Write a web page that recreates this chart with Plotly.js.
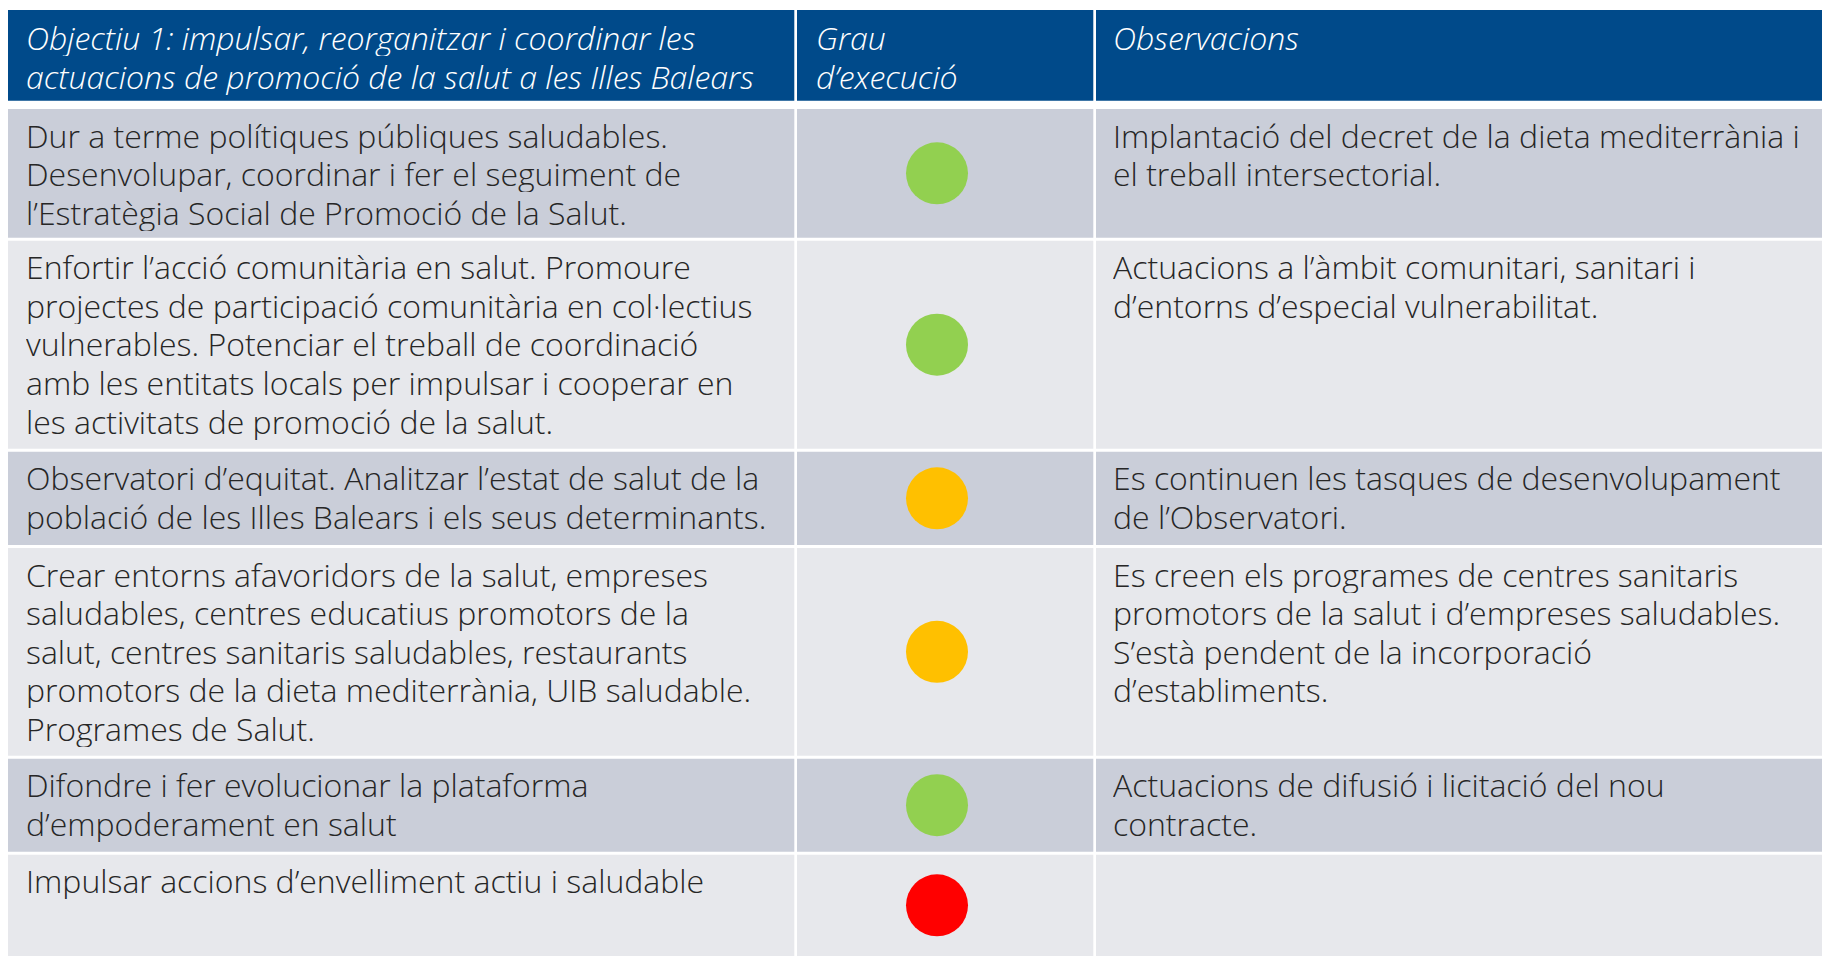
<!DOCTYPE html>
<html><head><meta charset="utf-8">
<script src="https://cdn.plot.ly/plotly-3.0.1.min.js"></script>
<style>html,body{margin:0;padding:0;background:#fff;overflow:hidden}</style>
</head><body><div id="chart" style="width:1822px;height:956px"></div>
<script>
// ---- data ----
const headers = [
  "Objectiu 1: impulsar, reorganitzar i coordinar les<br>actuacions de promoció de la salut a les Illes Balears",
  "Grau<br>d’execució",
  "Observacions"
];
const actions = [
  "Dur a terme polítiques públiques saludables.<br>Desenvolupar, coordinar i fer el seguiment de<br>l’Estratègia Social de Promoció de la Salut.",
  "Enfortir l’acció comunitària en salut. Promoure<br>projectes de participació comunitària en col·lectius<br>vulnerables. Potenciar el treball de coordinació<br>amb les entitats locals per impulsar i cooperar en<br>les activitats de promoció de la salut.",
  "Observatori d’equitat. Analitzar l’estat de salut de la<br>població de les Illes Balears i els seus determinants.",
  "Crear entorns afavoridors de la salut, empreses<br>saludables, centres educatius promotors de la<br>salut, centres sanitaris saludables, restaurants<br>promotors de la dieta mediterrània, UIB saludable.<br>Programes de Salut.",
  "Difondre i fer evolucionar la plataforma<br>d’empoderament en salut",
  "Impulsar accions d’envelliment actiu i saludable"
];
const executionStatus = ["verd", "verd", "groc", "groc", "verd", "vermell"];
const observations = [
  "Implantació del decret de la dieta mediterrània i<br>el treball intersectorial.",
  "Actuacions a l’àmbit comunitari, sanitari i<br>d’entorns d’especial vulnerabilitat.",
  "Es continuen les tasques de desenvolupament<br>de l’Observatori.",
  "Es creen els programes de centres sanitaris<br>promotors de la salut i d’empreses saludables.<br>S’està pendent de la incorporació<br>d’establiments.",
  "Actuacions de difusió i licitació del nou<br>contracte.",
  ""
];

// ---- styling / layout ----
const statusColors = {verd: "#92D050", groc: "#FFC000", vermell: "#FF0000"};
const W = 1822, H = 956;
const cols = [[8, 794.3], [797, 1093.3], [1096, 1840]];
const textPad = [16.5, 17.5, 16];
const headerTop = 10, headerBottom = 100.7;
const firstRowTop = 109, rowGap = 3;
const rowHeights = [128.7, 208, 93.3, 207.7, 93, 130];
const lineH = 38.6, firstLineOffset = 25.5;
const headerFill = "#004A8A", darkFill = "#CACED9", lightFill = "#E7E8EC";
const textColor = "#262626";
const fontFam = "'Open Sans', sans-serif";
const bodySize = 32, headerSize = 32;
const dotX = 937;

const shapes = [];
const annotations = [];

function addCellText(str, colIdx, top, font) {
  if (!str) return;
  str.split("<br>").forEach((line, i) => {
    annotations.push({
      x: cols[colIdx][0] + textPad[colIdx], y: top + firstLineOffset + i * lineH,
      xref: "x", yref: "y", xanchor: "left", yanchor: "middle",
      height: lineH - 0.6, valign: "middle",
      showarrow: false, text: line, font: font, borderpad: 0
    });
  });
}

// header
const headerFont = {family: fontFam, size: headerSize, color: "#FFFFFF", style: "italic", weight: 300};
headers.forEach((h, c) => {
  shapes.push({type: "rect", xref: "x", yref: "y", x0: cols[c][0], x1: cols[c][1],
    y0: headerTop, y1: headerBottom, fillcolor: headerFill, line: {width: 0}, layer: "below"});
  addCellText(h, c, headerTop + 1.5, headerFont);
});

// body
const bodyFont = {family: fontFam, size: bodySize, color: textColor, weight: 300};
const rowTops = [];
let t = firstRowTop;
rowHeights.forEach(h => { rowTops.push(t); t += h + rowGap; });

const dotXs = [], dotYs = [], dotColors = [];
actions.forEach((a, r) => {
  const top = rowTops[r], bot = top + rowHeights[r];
  const fill = r % 2 === 0 ? darkFill : lightFill;
  cols.forEach(c => shapes.push({type: "rect", xref: "x", yref: "y", x0: c[0], x1: c[1],
    y0: top, y1: bot, fillcolor: fill, line: {width: 0}, layer: "below"}));
  addCellText(a, 0, top, bodyFont);
  addCellText(observations[r], 2, top, bodyFont);
  dotXs.push(dotX);
  dotYs.push((top + Math.min(bot, H)) / 2);
  dotColors.push(statusColors[executionStatus[r]]);
});

const trace = {
  type: "scatter", mode: "markers", x: dotXs, y: dotYs,
  marker: {size: 62, color: dotColors, line: {width: 0}},
  hoverinfo: "skip", cliponaxis: false
};

const layout = {
  width: W, height: H, margin: {l: 0, r: 0, t: 0, b: 0, pad: 0},
  paper_bgcolor: "#FFFFFF", plot_bgcolor: "#FFFFFF", showlegend: false,
  xaxis: {range: [0, W], visible: false, fixedrange: true},
  yaxis: {range: [H, 0], visible: false, fixedrange: true},
  shapes: shapes, annotations: annotations
};
Plotly.newPlot("chart", [trace], layout, {staticPlot: true, displayModeBar: false});
</script></body></html>
